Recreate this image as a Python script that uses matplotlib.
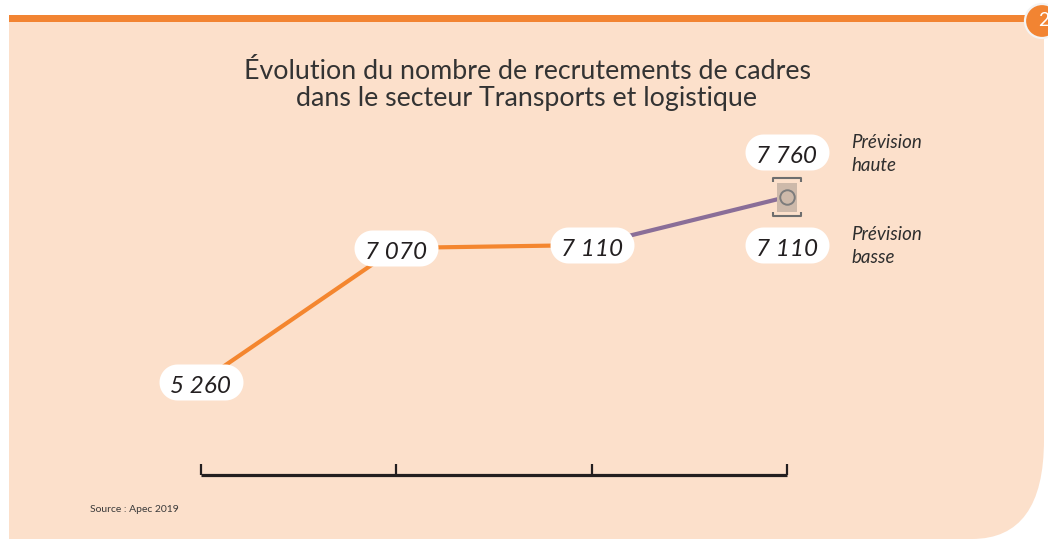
import matplotlib
matplotlib.use("Agg")
import matplotlib.pyplot as plt
from matplotlib.path import Path
from matplotlib.patches import PathPatch, Circle
import numpy as np

# ---------------- data ----------------
title = "Évolution du nombre de recrutements de cadres\ndans le secteur Transports et logistique"
hist_x = [0, 1, 2]
hist_values = [5260, 7070, 7110]
hist_labels = ["5 260", "7 070", "7 110"]
forecast_x = [2, 3]
forecast_high_values = [7110, 7760]
forecast_low_value = 7110
high_label = "7 760"
low_label = "7 110"
high_caption = "Prévision\nhaute"
low_caption = "Prévision\nbasse"
x_ticks = [0, 1, 2, 3]
source = "Source : Apec 2019"
badge = "2"

# ---------------- style ----------------
W, H = 1048, 539
BG = "#FCE0CB"
ORANGE = "#F28432"
LINE_ORANGE = "#F4862F"
PURPLE = "#8A6E98"
DARK = "#231F20"
FONT = "Lato"

fig = plt.figure(figsize=(W / 100, H / 100), dpi=100)
fig.patch.set_facecolor("white")

# background panel (pixel coordinates)
bg = fig.add_axes([0, 0, 1, 1])
bg.set_xlim(0, W)
bg.set_ylim(H, 0)
bg.axis("off")
verts = [(9, 15), (1044, 15), (1044, 440), (1044, 539), (972, 539), (9, 539), (9, 15)]
codes = [Path.MOVETO, Path.LINETO, Path.LINETO, Path.CURVE3, Path.CURVE3,
         Path.LINETO, Path.CLOSEPOLY]
bg.add_patch(PathPatch(Path(verts, codes), facecolor=BG, edgecolor="none"))
bg.add_patch(plt.Rectangle((9, 15), 1030, 6.5, facecolor=ORANGE, edgecolor="none"))
bg.add_patch(Circle((1042, 21), 17, facecolor=ORANGE, edgecolor="#F4F4F4", lw=1.6))
bg.text(1044, 21, badge, color="white", fontsize=14, ha="center", va="center",
        family=FONT)
bg.text(527, 85, title, ha="center", va="center", fontsize=19.3, color="#333333",
        family=FONT, linespacing=1.12)
bg.text(90, 510, source, ha="left", va="center", fontsize=7.5, color="#3A3A3A",
        family=FONT)

# data axes
left_px, right_px, bottom_px, top_px = 201, 787, 475, 150
ax = fig.add_axes([left_px / W, (H - bottom_px) / H,
                   (right_px - left_px) / W, (bottom_px - top_px) / H])
ax.set_facecolor("none")
ax.set_xlim(0, 3)
ax.set_ylim(4002, 8394)
for s in ["top", "left", "right"]:
    ax.spines[s].set_visible(False)
ax.spines["bottom"].set_linewidth(2.3)
ax.spines["bottom"].set_color(DARK)
ax.spines["bottom"].set_capstyle("butt")
ax.set_xticks(x_ticks)
ax.set_xticklabels([])
ax.set_yticks([])
ax.tick_params(axis="x", direction="in", length=8.2, width=1.6, color=DARK)

# lines
ax.plot(hist_x, hist_values, color=LINE_ORANGE, lw=3.0, solid_capstyle="butt",
        zorder=2, clip_on=False)
ax.plot(forecast_x, forecast_high_values, color=PURPLE, lw=3.0,
        solid_capstyle="butt", zorder=2, clip_on=False)

PX = 0.72  # points per pixel


def pill_path(w, h, dy=0.0):
    r = h / 2.0
    hw = w / 2.0 - r
    t1 = np.linspace(-np.pi / 2, np.pi / 2, 30)
    t2 = np.linspace(np.pi / 2, 3 * np.pi / 2, 30)
    right = np.column_stack([hw + r * np.cos(t1), dy + r * np.sin(t1)])
    left = np.column_stack([-hw + r * np.cos(t2), dy + r * np.sin(t2)])
    v = np.vstack([right, left, right[:1]])
    c = [Path.MOVETO] + [Path.LINETO] * (len(v) - 2) + [Path.CLOSEPOLY]
    return Path(v, c)


def msize(path):
    return 2 * np.max(np.abs(path.vertices)) * PX


BW, BH = 84, 36
pill = pill_path(BW, BH)
HIGH_DY = 45
pill_high = pill_path(BW, BH, HIGH_DY)
BASE_DY = -11  # baseline offset from bubble centre (px)
NUM_KW = dict(ha="center", va="baseline", fontsize=17.5, style="italic", color=DARK,
              family=FONT, zorder=4, annotation_clip=False, textcoords="offset points")

# bubbles for historical values
ax.plot(hist_x, hist_values, ls="none", marker=pill, markersize=msize(pill),
        markerfacecolor="white", markeredgewidth=0, zorder=3, clip_on=False)
for x, v, lab in zip(hist_x, hist_values, hist_labels):
    ax.annotate(lab, (x, v), xytext=(0, BASE_DY * PX), **NUM_KW)

# forecast marker decorations
rect = Path([(-10, -14.5), (10, -14.5), (10, 14.5), (-10, 14.5), (-10, -14.5)],
            [Path.MOVETO, Path.LINETO, Path.LINETO, Path.LINETO, Path.CLOSEPOLY])
brackets = Path([(-14, 15), (-14, 19), (14, 19), (14, 15),
                 (-14, -15), (-14, -19), (14, -19), (14, -15)],
                [Path.MOVETO, Path.LINETO, Path.LINETO, Path.LINETO,
                 Path.MOVETO, Path.LINETO, Path.LINETO, Path.LINETO])
fx, fy = forecast_x[-1], forecast_high_values[-1]
ax.plot([fx], [fy], ls="none", marker=rect, markersize=msize(rect),
        markerfacecolor="#CDB9AA", markeredgewidth=0, zorder=3, clip_on=False)
ax.plot([fx], [fy], ls="none", marker=brackets, markersize=msize(brackets),
        markerfacecolor="none", markeredgecolor="#6E6E6E", markeredgewidth=1.5,
        zorder=3, clip_on=False)
ax.plot([fx], [fy], ls="none", marker="o", markersize=14.5 * PX,
        markerfacecolor="none", markeredgecolor="#7C7C7C", markeredgewidth=1.4,
        zorder=4, clip_on=False)

# high / low forecast labels
ax.plot([fx], [fy], ls="none", marker=pill_high, markersize=msize(pill_high),
        markerfacecolor="white", markeredgewidth=0, zorder=3, clip_on=False)
ax.annotate(high_label, (fx, fy), xytext=(0, (HIGH_DY + BASE_DY) * PX), **NUM_KW)
ax.plot([fx], [forecast_low_value], ls="none", marker=pill, markersize=msize(pill),
        markerfacecolor="white", markeredgewidth=0, zorder=3, clip_on=False)
ax.annotate(low_label, (fx, forecast_low_value), xytext=(0, BASE_DY * PX), **NUM_KW)

CAP_KW = dict(textcoords="offset points", ha="left", va="center", fontsize=13.5,
              style="italic", color="#2E2E2E", family=FONT, linespacing=1.45,
              annotation_clip=False)
ax.annotate(high_caption, (fx, fy), xytext=(64 * PX, (HIGH_DY - 2) * PX), **CAP_KW)
ax.annotate(low_caption, (fx, forecast_low_value), xytext=(64 * PX, -1 * PX), **CAP_KW)

fig.savefig("out.png", dpi=100, facecolor=fig.get_facecolor())
